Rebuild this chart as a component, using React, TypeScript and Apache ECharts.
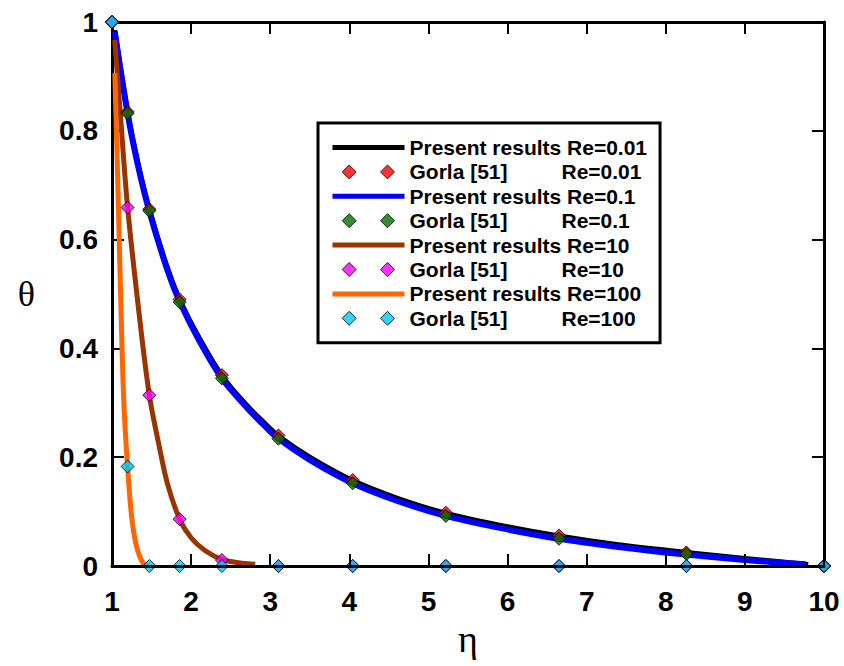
import React, { useEffect, useRef } from 'react';
import * as echarts from 'echarts';

// Gorla [51] reference points (eta grid shared by all Re)
const gorlaEta = [1, 1.197, 1.472, 1.855, 2.389, 3.104, 4.043, 5.22, 6.65, 8.26, 10];
const gorlaRe001 = [1, 0.835, 0.656, 0.49, 0.351, 0.24, 0.158, 0.098, 0.056, 0.025, 0];
const gorlaRe01 = [1, 0.832, 0.653, 0.485, 0.345, 0.234, 0.152, 0.092, 0.05, 0.022, 0];
const gorlaRe10 = [1, 0.659, 0.314, 0.086, 0.011, 0, 0, 0, 0, 0, 0];
const gorlaRe100 = [1, 0.183, 0, 0, 0, 0, 0, 0, 0, 0, 0];

// Present results curves
const presentRe001Eta = [1.035, 1.197, 1.33, 1.472, 1.7, 1.855, 2.1, 2.389, 2.7, 2.94, 3.104, 3.5, 4.043, 4.6, 5.22, 5.9, 6.65, 7.4, 8.26, 9.0, 9.8];
const presentRe001 = [0.985, 0.835, 0.739, 0.656, 0.548, 0.49, 0.42, 0.35, 0.296, 0.261, 0.239, 0.2, 0.157, 0.125, 0.097, 0.075, 0.055, 0.039, 0.025, 0.014, 0.003];

const presentRe01Eta = [1.035, 1.197, 1.33, 1.472, 1.7, 1.855, 2.1, 2.389, 2.7, 2.94, 3.104, 3.5, 4.043, 4.6, 5.22, 5.9, 6.65, 7.4, 8.26, 9.0, 9.77];
const presentRe01 = [0.982, 0.832, 0.735, 0.652, 0.544, 0.486, 0.415, 0.345, 0.292, 0.256, 0.234, 0.195, 0.152, 0.12, 0.092, 0.07, 0.05, 0.035, 0.021, 0.011, 0.003];

const presentRe10Eta = [1.035, 1.114, 1.197, 1.33, 1.472, 1.6, 1.7, 1.855, 2.0, 2.18, 2.389, 2.6, 2.81];
const presentRe10 = [0.967, 0.814, 0.66, 0.48, 0.314, 0.218, 0.152, 0.086, 0.052, 0.028, 0.012, 0.006, 0.003];

const presentRe100Eta = [1.036, 1.076, 1.114, 1.15, 1.197, 1.248, 1.31, 1.395, 1.47];
const presentRe100 = [0.906, 0.69, 0.471, 0.3, 0.183, 0.091, 0.036, 0.005, 0.0];

const xTicks = { min: 1, max: 10, interval: 1 };
const yTicks = { min: 0, max: 1, interval: 0.2 };

const pairs = (xs: number[], ys: number[]) => xs.map((x, i) => [x, ys[i]]);

const FONT = 'Liberation Sans, Arial, sans-serif';
const SERIF = 'Liberation Serif, Times New Roman, serif';

const TWO_DIAMONDS =
  'path://M0,7L0,7M16.7,0L23.7,7L16.7,14L9.7,7ZM55,0L62,7L55,14L48,7ZM72,7L72,7';

export default function App() {
  const ref = useRef<HTMLDivElement>(null);

  useEffect(() => {
    document.body.style.margin = '0';
    if (!ref.current) return;
    const chart = echarts.init(ref.current, undefined, { renderer: 'svg' });

    const axisLine = { show: true, onZero: false, lineStyle: { color: '#000', width: 3 } };
    const axisTick = { show: true, inside: true, length: 12, lineStyle: { color: '#000', width: 2 } };
    const tickLabel = { color: '#000', fontFamily: FONT, fontWeight: 'bold' as const, fontSize: 28 };

    const lineSeries = (name: string, xs: number[], ys: number[], color: string, width: number) => ({
      name,
      type: 'line',
      data: pairs(xs, ys),
      smooth: 0.35,
      symbol: 'none',
      lineStyle: { color, width },
      itemStyle: { color },
      z: 2,
    });
    const markSeries = (name: string, ys: number[], color: string, z: number) => ({
      name,
      type: 'scatter',
      data: pairs(gorlaEta, ys),
      symbol: 'diamond',
      symbolSize: 13,
      clip: false,
      itemStyle: { color, borderColor: '#000', borderWidth: 1 },
      z,
    });

    const richText = { fontFamily: FONT, fontWeight: 'bold' as const, fontSize: 21, color: '#000', lineHeight: 21 };

    chart.setOption({
      animation: false,
      backgroundColor: '#fff',
      grid: { left: 112, right: 20, top: 22, bottom: 100, containLabel: false },
      xAxis: [
        {
          type: 'value', ...xTicks, position: 'bottom', z: 10,
          axisLine, axisTick, splitLine: { show: false },
          axisLabel: { ...tickLabel, margin: 21 },
          name: 'η', nameLocation: 'middle', nameGap: 51,
          nameTextStyle: { fontFamily: SERIF, fontSize: 38, color: '#000' },
        },
        {
          type: 'value', ...xTicks, position: 'top',
          axisLine, axisTick, splitLine: { show: false }, axisLabel: { show: false },
        },
      ],
      yAxis: [
        {
          type: 'value', ...yTicks, position: 'left',
          axisLine, axisTick, splitLine: { show: false },
          axisLabel: { ...tickLabel, margin: 14 },
          name: 'θ', nameLocation: 'middle', nameGap: 77, nameRotate: 0,
          nameTextStyle: { fontFamily: SERIF, fontSize: 36, color: '#000' },
        },
        {
          type: 'value', ...yTicks, position: 'right',
          axisLine, axisTick, splitLine: { show: false }, axisLabel: { show: false },
        },
      ],
      legend: {
        orient: 'vertical',
        left: 318,
        top: 123,
        padding: [14, 13, 14, 12],
        itemWidth: 72,
        itemHeight: 14,
        itemGap: 3.4,
        itemTextGap: 13,
        borderColor: '#000',
        borderWidth: 3,
        backgroundColor: '#fff',
        selectedMode: false,
        textStyle: { ...richText, rich: { a: { ...richText, width: 152 }, b: { ...richText } } },
        lineStyle: { width: 5 },
        itemStyle: { borderWidth: 1, borderColor: '#000' },
        formatter: (name: string) => {
          if (name.indexOf('Gorla') === 0) {
            const re = name.slice(name.indexOf('Re='));
            return `{a|Gorla [51]}{b|${re}}`;
          }
          return name;
        },
        data: [
          { name: 'Present results Re=0.01', itemStyle: { opacity: 0 } },
          { name: 'Gorla [51] Re=0.01', icon: TWO_DIAMONDS },
          { name: 'Present results Re=0.1', itemStyle: { opacity: 0 } },
          { name: 'Gorla [51] Re=0.1', icon: TWO_DIAMONDS },
          { name: 'Present results Re=10', itemStyle: { opacity: 0 } },
          { name: 'Gorla [51] Re=10', icon: TWO_DIAMONDS },
          { name: 'Present results Re=100', itemStyle: { opacity: 0 } },
          { name: 'Gorla [51] Re=100', icon: TWO_DIAMONDS },
        ],
      },
      series: [
        lineSeries('Present results Re=0.01', presentRe001Eta, presentRe001, '#000000', 5),
        lineSeries('Present results Re=0.1', presentRe01Eta, presentRe01, '#0000ff', 6),
        lineSeries('Present results Re=10', presentRe10Eta, presentRe10, '#993300', 5),
        lineSeries('Present results Re=100', presentRe100Eta, presentRe100, '#ff6600', 5),
        markSeries('Gorla [51] Re=0.01', gorlaRe001, '#ff0000', 3),
        markSeries('Gorla [51] Re=0.1', gorlaRe01, '#007000', 4),
        markSeries('Gorla [51] Re=10', gorlaRe10, '#ff00ff', 5),
        markSeries('Gorla [51] Re=100', gorlaRe100, '#00c8f5', 6),
      ],
    });

    return () => chart.dispose();
  }, []);

  return <div ref={ref} style={{ width: 844, height: 666 }} />;
}
